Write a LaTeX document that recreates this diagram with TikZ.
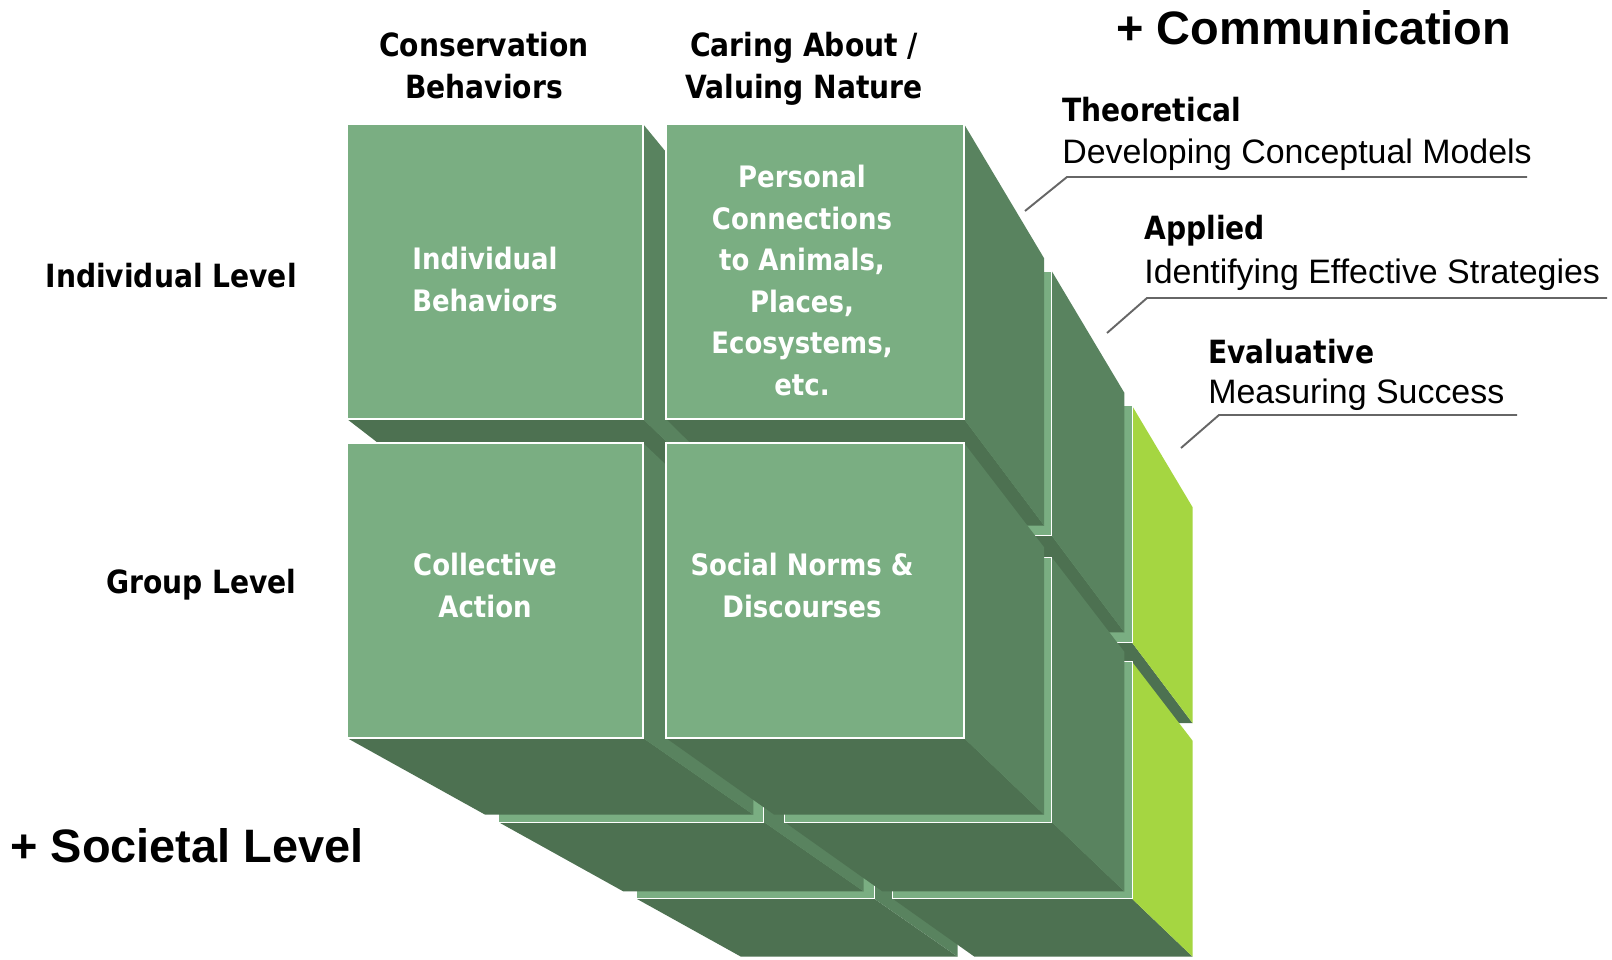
\documentclass[tikz,border=0pt]{standalone}
\usepackage{fontspec}
\setmainfont{Liberation Sans}
\newfontfamily\verdfont[FakeStretch=0.88]{DejaVu Sans}
\usetikzlibrary{calc}

\definecolor{frontgreen}{RGB}{122,174,130}
\definecolor{sidegreen}{RGB}{89,131,95}
\definecolor{basegreen}{RGB}{77,113,81}
\definecolor{limegreen}{RGB}{165,214,65}

\tikzset{
	frontface/.style={fill=frontgreen, draw=white, line width=0.6pt},
	baseface/.style={fill=basegreen},
	headlabel/.style={font=\verdfont\bfseries\fontsize{18.2pt}{23.7pt}\selectfont, align=center, inner sep=0pt},
	boxlabel/.style={font=\verdfont\bfseries\fontsize{16.8pt}{23.6pt}\selectfont, text=white, align=center, inner sep=0pt},
	plainlabel/.style={font=\fontsize{19.3pt}{23pt}\selectfont, inner sep=0pt},
	pluslabel/.style={font=\bfseries\fontsize{26.7pt}{32pt}\selectfont, inner sep=0pt},
	leader/.style={draw=black!60, line width=1.1pt},
}

% one box: side colour, front corners, depth from t1 to t2 towards (V)
\def\cubelet[#1](#2,#3)(#4,#5)(#6:#7){
	\fill[baseface] ($(#2,#5)!#6!(V)$) -- ($(#4,#5)!#6!(V)$) -- ($(#4,#5)!#7!(V)$) -- ($(#2,#5)!#7!(V)$) -- cycle;
	\fill[fill=#1] ($(#4,#3)!#6!(V)$) -- ($(#4,#3)!#7!(V)$) -- ($(#4,#5)!#7!(V)$) -- ($(#4,#5)!#6!(V)$) -- cycle;
	\draw[frontface] ($(#2,#3)!#6!(V)$) rectangle ($(#4,#5)!#6!(V)$);
}

\begin{document}
\begin{tikzpicture}[x=0.2mm, y=-0.2mm]
			%%%%% START %%%%%
			\useasboundingbox (0,0) rectangle (1612,960);
			\coordinate (V) at (1817,1554);
			
			% back layer first, front layer last
			\foreach \tf/\tb/\side in {0.197/0.268/limegreen, 0.103/0.188/sidegreen, 0/0.094/sidegreen}{
				\cubelet[sidegreen](347,124)(643,419)(\tf:\tb)
				\cubelet[\side](666,124)(964,419)(\tf:\tb)
				\cubelet[sidegreen](347,443)(643,738)(\tf:\tb)
				\cubelet[\side](666,443)(964,738)(\tf:\tb)
			}
			
			\node[boxlabel, anchor=north] (indivbox) at (485,247) {Individual\\Behaviors};
			\node[boxlabel, anchor=north] (personalbox) at (802,165) {Personal\\Connections\\to Animals,\\Places,\\Ecosystems,\\etc.};
			\node[boxlabel, anchor=north] (collectbox) at (485,553) {Collective\\Action};
			\node[boxlabel, anchor=north] (normsbox) at (802,553) {Social Norms \&\\Discourses};
			
			\node[headlabel, anchor=north] (conshead) at (484,32) {Conservation\\Behaviors};
			\node[headlabel, anchor=north] (carehead) at (804,32) {Caring About /\\Valuing Nature};
			\node[headlabel, anchor=base east] (indivlevel) at (297,288) {Individual Level};
			\node[headlabel, anchor=base east] (grouplevel) at (297,594) {Group Level};
			
			\node[pluslabel, anchor=base west] (commlabel) at (1116,45) {+ Communication};
			\node[pluslabel, anchor=base west] (societal) at (10,862) {+ Societal Level};
			
			\node[headlabel, anchor=base west] (theo) at (1062,121.7) {Theoretical};
			\node[plainlabel, anchor=base west] (theosub) at (1062,163.3) {Developing Conceptual Models};
			\node[headlabel, anchor=base west] (appl) at (1144,240) {Applied};
			\node[plainlabel, anchor=base west] (applsub) at (1144,283.3) {Identifying Effective Strategies};
			\node[headlabel, anchor=base west] (eval) at (1208,363.3) {Evaluative};
			\node[plainlabel, anchor=base west] (evalsub) at (1208,403.3) {Measuring Success};
			
			\coordinate (theotip) at (1025,211);
			\coordinate (theoknee) at (1067,177);
			\coordinate (theoend) at (1527,177);
			\draw[leader] (theotip) -- (theoknee) -- (theoend);
			
			\coordinate (appltip) at (1107,333);
			\coordinate (applknee) at (1147,298);
			\coordinate (applend) at (1607,298);
			\draw[leader] (appltip) -- (applknee) -- (applend);
			
			\coordinate (evaltip) at (1181,448);
			\coordinate (evalknee) at (1219,415);
			\coordinate (evalend) at (1517,415);
			\draw[leader] (evaltip) -- (evalknee) -- (evalend);
			%%%%% END %%%%%
\end{tikzpicture}
\end{document}
